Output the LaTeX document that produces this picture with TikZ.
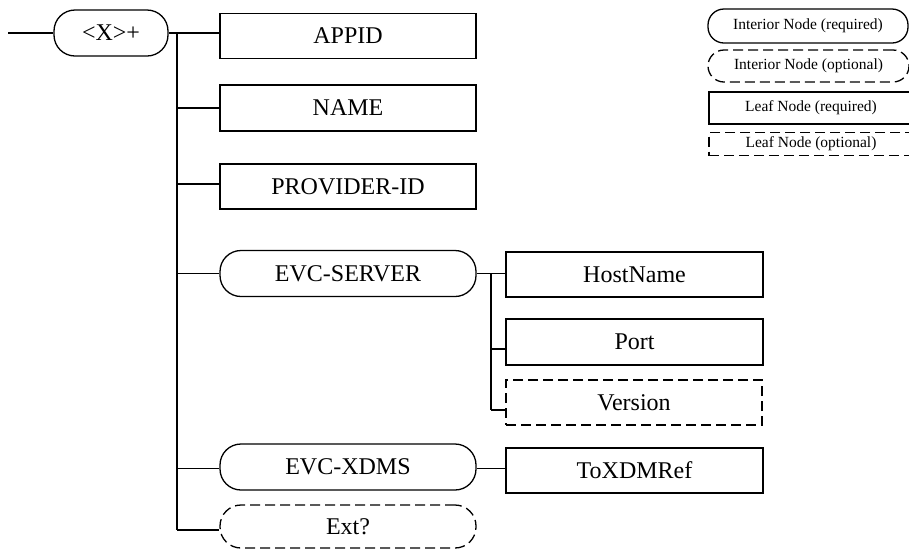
\documentclass[tikz,border=0pt]{standalone}
\usepackage{fontspec}
\setmainfont{Liberation Serif}
\begin{document}
\begin{tikzpicture}[x=1pt,y=-1pt,
  every node/.style={inner sep=0pt, line width=1.3pt, font=\fontsize{24}{28}\selectfont},
  leaf/.style={draw, rectangle, minimum width=256pt, minimum height=45pt},
  inner/.style={draw, rectangle, rounded corners=21pt, minimum width=256pt, minimum height=46pt},
  opt/.style={dash pattern=on 10pt off 5pt},
  legend/.style={font=\fontsize{15.5}{18}\selectfont},
  conn/.style={line width=1.3pt}
]
\useasboundingbox (0,0) rectangle (909,550);

% root
\node[inner, rounded corners=21pt, minimum width=114pt, minimum height=46pt] (root) at (111,33) {<X>+};
\coordinate (start) at (8,33);
\coordinate (trunk) at (177,33);

% children
\node[leaf] (appid) at (348,36) {APPID};
\node[leaf, minimum height=46pt] (name) at (348,108) {NAME};
\node[leaf] (prov) at (348,186.5) {PROVIDER-ID};
\node[inner] (srv) at (348,273.5) {EVC-SERVER};
\node[inner] (xdms) at (348,467) {EVC-XDMS};
\node[inner, opt, minimum height=43pt] (ext) at (348,526.5) {Ext?};

\node[leaf, minimum width=257pt] (host) at (634.5,274.5) {HostName};
\node[leaf, minimum width=257pt, minimum height=46pt] (port) at (634.5,342) {Port};
\node[leaf, opt] (ver) at (634,402.5) {Version};
\node[leaf, minimum width=257pt] (toxdm) at (634.5,470.5) {ToXDMRef};
\coordinate (sub) at (491,273.5);

% connection points
\coordinate (cappid) at ([yshift=3pt]appid.west);
\coordinate (cname) at (name.west);
\coordinate (cprov) at ([yshift=2.5pt]prov.west);
\coordinate (csrv) at (srv.west);
\coordinate (cxdms) at ([yshift=-1.5pt]xdms.west);
\coordinate (cext) at ([yshift=-3.5pt]ext.west);
\coordinate (chost) at ([yshift=1pt]host.west);
\coordinate (cport) at ([yshift=-7pt]port.west);
\coordinate (cver) at ([yshift=-7.5pt]ver.west);
\coordinate (ctox) at ([yshift=2pt]toxdm.west);

% connectors
\draw[conn] (start) -- (root.west);
\draw[conn] (root.east) -- (cappid);
\draw[conn] (trunk) -- (trunk |- cext);
\draw[conn] (trunk |- cname) -- (cname);
\draw[conn] (trunk |- cprov) -- (cprov);
\draw[conn] (trunk |- csrv) -- (csrv);
\draw[conn] (trunk |- cxdms) -- (cxdms);
\draw[conn] (trunk |- cext) -- (cext);

\draw[conn] (srv.east) -- (chost);
\draw[conn] (sub) -- (sub |- cver);
\draw[conn] (sub |- cport) -- (cport);
\draw[conn] (sub |- cver) -- (cver);
\draw[conn] (xdms.east |- ctox) -- (ctox);

% legend
\node[inner, legend, rounded corners=16pt, minimum width=200pt, minimum height=34pt] (l1) at (808,26) {Interior Node (required)};
\node[inner, legend, opt, rounded corners=16pt, minimum width=201pt, minimum height=32pt] (l2) at (808.5,66) {Interior Node (optional)};
\node[leaf, legend, minimum width=204pt, minimum height=32pt] (l3) at (811,108) {Leaf Node (required)};
\node[leaf, legend, opt, minimum width=204pt, minimum height=23pt] (l4) at (811,144) {Leaf Node (optional)};
\end{tikzpicture}
\end{document}
